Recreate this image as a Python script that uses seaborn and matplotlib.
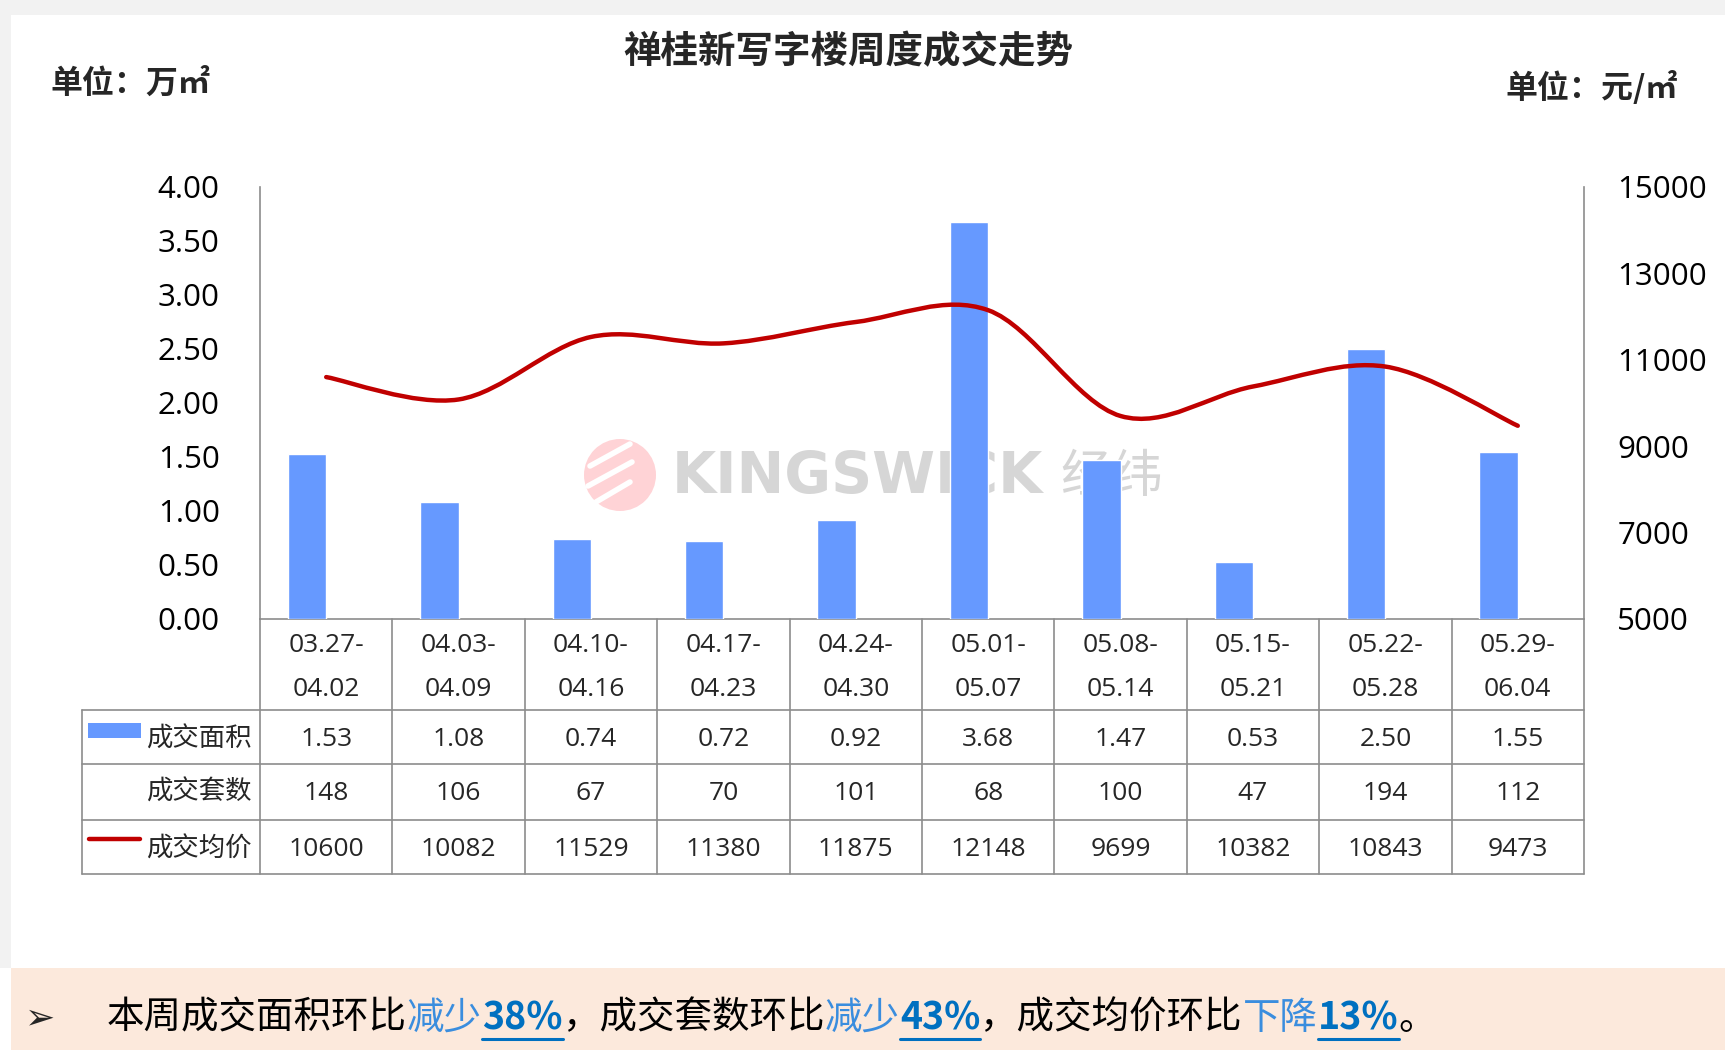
import matplotlib
matplotlib.use("Agg")
import matplotlib.pyplot as plt
import matplotlib.transforms as mtransforms
from matplotlib.path import Path
from matplotlib.patches import PathPatch, Rectangle, Ellipse
from matplotlib.lines import Line2D
import numpy as np
import pandas as pd
import seaborn as sns

# ── Data ─────────────────────────────────────────────────────────────────────
week_start = ["03.27-", "04.03-", "04.10-", "04.17-", "04.24-",
              "05.01-", "05.08-", "05.15-", "05.22-", "05.29-"]
week_end = ["04.02", "04.09", "04.16", "04.23", "04.30",
            "05.07", "05.14", "05.21", "05.28", "06.04"]
area = [1.53, 1.08, 0.74, 0.72, 0.92, 3.68, 1.47, 0.53, 2.50, 1.55]      # 万㎡
units = [148, 106, 67, 70, 101, 68, 100, 47, 194, 112]                    # 套
price = [10600, 10082, 11529, 11380, 11875, 12148, 9699, 10382, 10843, 9473]  # 元/㎡

left_ticks = [0.0, 0.5, 1.0, 1.5, 2.0, 2.5, 3.0, 3.5, 4.0]
right_ticks = [5000, 7000, 9000, 11000, 13000, 15000]

summary = [("本周成交面积环比", "k"), ("减少", "lite"), ("38%", "bold"),
           ("，成交套数环比", "k"), ("减少", "lite"), ("43%", "bold"),
           ("，成交均价环比", "k"), ("下降", "lite"), ("13%", "bold"), ("。", "k")]

# ── Style ────────────────────────────────────────────────────────────────────
BAR = "#6699FF"
LINE = "#C00000"
GRID = "#8C8C8C"
NUM_FONT = ["Open Sans", "Noto Sans CJK SC", "DejaVu Sans"]
W, H = 1725, 1050
BAR_W = 0.29

sns.set_theme(style="white")
plt.rcParams["font.family"] = ["Noto Sans CJK SC", "DejaVu Sans"]


def fx(px):
    return px / W


def fy(py):
    return 1 - py / H


fig = plt.figure(figsize=(W / 100, H / 100), dpi=100)
fig.patch.set_facecolor("white")

# frame strips + bottom banner
fig.add_artist(Rectangle((0, fy(15)), 1, 15 / H, transform=fig.transFigure,
                         color="#F2F2F2", lw=0, zorder=-5))
fig.add_artist(Rectangle((0, fy(968)), fx(11), 968 / H, transform=fig.transFigure,
                         color="#F2F2F2", lw=0, zorder=-5))
fig.add_artist(Rectangle((fx(11), 0), 1, (H - 968) / H, transform=fig.transFigure,
                         color="#FCE9DC", lw=0, zorder=-5))

# ── Main axes ────────────────────────────────────────────────────────────────
ax = fig.add_axes([fx(260), fy(619), fx(1584) - fx(260), (619 - 187) / H])
ax.patch.set_alpha(0)

df = pd.DataFrame({"week": week_start, "area": area})
sns.barplot(data=df, x="week", y="area", color=BAR, saturation=1,
            width=BAR_W, ax=ax, zorder=3)
# Excel cluster: the visible bar sits just left of the category centre
for p in ax.patches:
    p.set_x(p.get_x() - BAR_W / 2)

ax.set_xlim(-0.5, len(area) - 0.5)
ax.set_ylim(0, 4)
ax.set_yticks(left_ticks)
ax.set_yticklabels([f"{v:.2f}" for v in left_ticks], family=NUM_FONT)
ax.set_xticks([])
ax.set_xlabel("")
ax.set_ylabel("")
ax.tick_params(axis="y", length=0, pad=29, labelsize=22.5, colors="black")
for side in ["top", "right"]:
    ax.spines[side].set_visible(False)
for side in ["left", "bottom"]:
    ax.spines[side].set_color(GRID)
    ax.spines[side].set_linewidth(1.2)

ax2 = ax.twinx()
ax2.set_ylim(5000, 15000)
ax2.set_yticks(right_ticks)
ax2.set_yticklabels([str(v) for v in right_ticks], family=NUM_FONT)
ax2.tick_params(axis="y", length=0, pad=24, labelsize=22.5, colors="black")
for side in ["top", "left", "bottom"]:
    ax2.spines[side].set_visible(False)
ax2.spines["right"].set_color(GRID)
ax2.spines["right"].set_linewidth(1.2)

# smoothed price line (Excel-style bezier through the data points)
pts = np.column_stack([np.arange(len(price)), price]).astype(float)
verts = [pts[0]]
codes = [Path.MOVETO]
n = len(pts)
for i in range(n - 1):
    p_prev = pts[max(i - 1, 0)]
    p_next = pts[min(i + 2, n - 1)]
    verts += [pts[i] + (pts[i + 1] - p_prev) / 6,
              pts[i + 1] - (p_next - pts[i]) / 6,
              pts[i + 1]]
    codes += [Path.CURVE4] * 3
ax2.add_patch(PathPatch(Path(verts, codes), fill=False, edgecolor=LINE,
                        lw=3.2, capstyle="round", zorder=4))

# ── Watermark (under the bars) ───────────────────────────────────────────────
fig.add_artist(Ellipse((fx(620), fy(475)), 72 / W, 72 / H, transform=fig.transFigure,
                       color="#FFD3D6", lw=0, zorder=-1))
for (x0, y0, x1, y1) in [(590, 466, 630, 444), (588, 486, 632, 462), (596, 502, 630, 482)]:
    fig.add_artist(Line2D([fx(x0), fx(x1)], [fy(y0), fy(y1)], color="white",
                          lw=4, transform=fig.transFigure, zorder=-1))
fig.text(fx(672), fy(477), "KINGSWICK", fontsize=41, color="#D6D6D6", fontweight="bold",
         ha="left", va="center", zorder=-1, family=["DejaVu Sans"])
fig.text(fx(1060), fy(477), "经纬", fontsize=37, color="#D6D6D6",
         ha="left", va="center", zorder=-1)

# ── Data table below the chart ───────────────────────────────────────────────
tr = mtransforms.blended_transform_factory(ax.transData, fig.transFigure)
for yl in [710, 764, 820, 874]:
    fig.add_artist(Line2D([fx(82), fx(1584)], [fy(yl), fy(yl)], color=GRID,
                          lw=1.2, transform=fig.transFigure))
fig.add_artist(Line2D([fx(82), fx(82)], [fy(710), fy(874)], color=GRID,
                      lw=1.2, transform=fig.transFigure))
for i in range(len(area) + 1):
    fig.add_artist(Line2D([i - 0.5, i - 0.5], [fy(619), fy(874)], color=GRID,
                          lw=1.2, transform=tr))

TS = 19
num = dict(transform=tr, ha="center", va="center", fontsize=TS, family=NUM_FONT)
for i in range(len(area)):
    fig.text(i, fy(645), week_start[i], **num)
    fig.text(i, fy(689), week_end[i], **num)
    fig.text(i, fy(739), f"{area[i]:.2f}", **num)
    fig.text(i, fy(794), f"{units[i]}", **num)
    fig.text(i, fy(849), f"{price[i]}", **num)

for label, yc in [("成交面积", 739), ("成交套数", 792), ("成交均价", 849)]:
    fig.text(fx(252), fy(yc), label, ha="right", va="center", fontsize=19)
fig.add_artist(Rectangle((fx(88), fy(738)), fx(141) - fx(88), 15 / H,
                         transform=fig.transFigure, color=BAR, lw=0))
fig.add_artist(Line2D([fx(89), fx(140)], [fy(839), fy(839)], color=LINE, lw=3.2,
                      solid_capstyle="round", transform=fig.transFigure))

# ── Titles ───────────────────────────────────────────────────────────────────
fig.text(fx(848), fy(52), "禅桂新写字楼周度成交走势", ha="center", va="center",
         fontsize=27, fontweight="bold")
fig.text(fx(50), fy(84), "单位：万㎡", ha="left", va="center", fontsize=23, fontweight="bold")
fig.text(fx(1678), fy(88), "单位：元/㎡", ha="right", va="center", fontsize=23, fontweight="bold")

# ── Summary banner ───────────────────────────────────────────────────────────
fig.text(fx(40), fy(1018), "➢", ha="center", va="center", fontsize=26,
         family=["DejaVu Sans"])
renderer = fig.canvas.get_renderer()
xpos = 107
for s, kind in summary:
    kw = dict(fontsize=27, ha="left", va="center")
    if kind == "k":
        kw["color"] = "black"
    elif kind == "lite":
        kw["color"] = "#3A8DDE"
    else:
        kw["color"] = "#0070C0"
        kw["fontweight"] = "bold"
    t = fig.text(fx(xpos), fy(1018), s, **kw)
    w = t.get_window_extent(renderer).width
    if kind == "bold":
        fig.add_artist(Line2D([fx(xpos), fx(xpos + w)], [fy(1039), fy(1039)],
                              color="#0070C0", lw=2.2, transform=fig.transFigure))
    xpos += w

fig.savefig("out.png", dpi=100)
